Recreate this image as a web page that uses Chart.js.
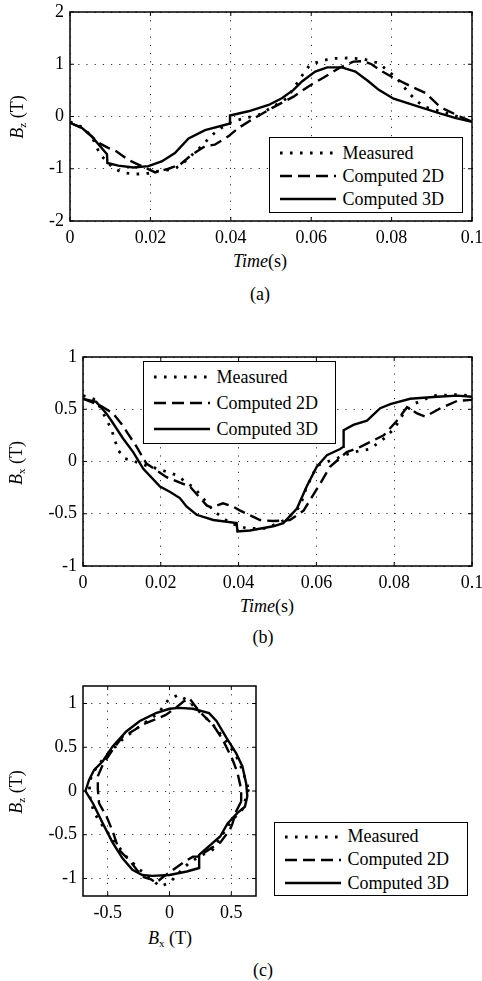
<!DOCTYPE html>
<html>
<head>
<meta charset="utf-8">
<script src="https://cdn.jsdelivr.net/npm/chart.js@4.4.0/dist/chart.umd.min.js"></script>
<style>
  body { margin: 0; background: #fff; }
  #page { position: relative; width: 482px; height: 981px; font-family: "Liberation Serif", "Times New Roman", serif; color: #000; }
  #page canvas { position: absolute; left: 0; }
  .txt { position: absolute; font-size: 18px; line-height: 1; white-space: nowrap; transform: translate(-50%, -50%); }
  .txt.rot { transform: translate(-50%, -50%) rotate(-90deg); }
  .txt sub { font-size: 11px; vertical-align: -3px; line-height: 0; }
  .legend { position: absolute; box-sizing: border-box; border: 1.5px solid #000; background: #fff; font-size: 18px; }
  .legend .row { position: absolute; left: 0; height: 24px; display: flex; align-items: center; }
  .legend svg { display: block; }
</style>
</head>
<body>
<div id="page">
  <canvas id="chartA" width="482" height="250" style="top:0"></canvas>
  <canvas id="chartB" width="482" height="256" style="top:340px"></canvas>
  <canvas id="chartC" width="482" height="256" style="top:670px"></canvas>

  <div class="txt" style="left:260px;top:261px"><i>Time</i>(s)</div>
  <div class="txt rot" style="left:17px;top:117px"><i>B</i><sub>z</sub> (T)</div>
  <div class="txt" style="left:260px;top:294px">(a)</div>

  <div class="txt" style="left:267px;top:606px"><i>Time</i>(s)</div>
  <div class="txt rot" style="left:16px;top:463px"><i>B</i><sub>x</sub> (T)</div>
  <div class="txt" style="left:263px;top:637px">(b)</div>

  <div class="txt" style="left:170px;top:938px"><i>B</i><sub>x</sub> (T)</div>
  <div class="txt rot" style="left:16px;top:792px"><i>B</i><sub>z</sub> (T)</div>
  <div class="txt" style="left:263px;top:970px">(c)</div>
</div>
<script>
const $ = id => document.getElementById(id);

const seriesNames = ["Measured", "Computed 2D", "Computed 3D"];

// (a) Bz against time
const timeTicks = [0, 0.02, 0.04, 0.06, 0.08, 0.1];
const aYTicks = [-2, -1, 0, 1, 2];

const aMeasT = [0, 0.003, 0.0054, 0.0075, 0.0108, 0.0133, 0.0162, 0.0187, 0.0216, 0.0245, 0.0274, 0.029, 0.0328, 0.0349, 0.0369, 0.0402, 0.0436, 0.0469, 0.049, 0.054, 0.0577, 0.0597, 0.062, 0.065, 0.069, 0.073, 0.0768, 0.0813, 0.0841, 0.0859, 0.088, 0.092, 0.096, 0.1];
const aMeasB = [-0.1, -0.2, -0.38, -0.73, -0.99, -1.08, -1.1, -1.1, -1.05, -1.02, -0.95, -0.83, -0.56, -0.39, -0.25, -0.1, -0.03, 0.03, 0.12, 0.35, 0.78, 0.99, 1.05, 1.11, 1.12, 1.1, 1.02, 0.73, 0.47, 0.32, 0.19, 0.1, 0.01, -0.1];

const a2dT = [0, 0.003, 0.0054, 0.0075, 0.0095, 0.0116, 0.0145, 0.017, 0.0212, 0.0245, 0.0274, 0.0303, 0.0336, 0.036, 0.0394, 0.0419, 0.0452, 0.0502, 0.0556, 0.0598, 0.063, 0.067, 0.0705, 0.073, 0.075, 0.0777, 0.08, 0.0842, 0.0884, 0.0916, 0.0934, 0.097, 0.1];
const a2dB = [-0.12, -0.22, -0.38, -0.52, -0.6, -0.67, -0.83, -0.92, -1.07, -1.0, -0.92, -0.73, -0.57, -0.54, -0.38, -0.22, -0.06, 0.16, 0.38, 0.6, 0.74, 0.93, 1.05, 1.06, 1.0, 0.86, 0.76, 0.6, 0.45, 0.22, 0.13, 0.0, -0.1];

const a3dT = [0, 0.003, 0.0054, 0.0075, 0.0092, 0.0093, 0.012, 0.0158, 0.0195, 0.0228, 0.0261, 0.0295, 0.0336, 0.0396, 0.0398, 0.0444, 0.0494, 0.0527, 0.0556, 0.0577, 0.061, 0.064, 0.0676, 0.071, 0.0743, 0.0768, 0.0805, 0.0867, 0.092, 0.096, 0.1];
const a3dB = [-0.12, -0.22, -0.38, -0.57, -0.72, -0.89, -0.94, -0.975, -0.95, -0.86, -0.7, -0.42, -0.26, -0.14, 0.02, 0.1, 0.22, 0.35, 0.51, 0.67, 0.86, 0.94, 0.94, 0.86, 0.67, 0.51, 0.34, 0.19, 0.06, -0.03, -0.1];

// (b) Bx against time
const bYTicks = [-1, -0.5, 0, 0.5, 1];

const bMeasT = [0, 0.0034, 0.0073, 0.009, 0.0107, 0.0133, 0.0163, 0.0193, 0.024, 0.0288, 0.0335, 0.0378, 0.0421, 0.0472, 0.0524, 0.0558, 0.0575, 0.0588, 0.0601, 0.0652, 0.0695, 0.0738, 0.0781, 0.0803, 0.0824, 0.085, 0.0901, 0.0962, 0.1];
const bMeasB = [0.63, 0.59, 0.31, 0.11, 0.03, 0.0, -0.04, -0.07, -0.13, -0.26, -0.47, -0.59, -0.64, -0.64, -0.55, -0.43, -0.24, -0.15, -0.04, 0.03, 0.09, 0.12, 0.24, 0.33, 0.46, 0.55, 0.63, 0.64, 0.63];

const b2dT = [0, 0.0043, 0.0077, 0.0099, 0.0138, 0.0163, 0.0215, 0.0275, 0.0318, 0.033, 0.036, 0.0385, 0.0404, 0.0455, 0.0489, 0.0532, 0.0567, 0.061, 0.0635, 0.0678, 0.0713, 0.0773, 0.0807, 0.0833, 0.0859, 0.088, 0.0919, 0.0962, 0.1];
const b2dB = [0.6, 0.54, 0.46, 0.36, 0.14, -0.02, -0.15, -0.24, -0.42, -0.44, -0.4, -0.43, -0.47, -0.56, -0.57, -0.56, -0.47, -0.21, -0.05, 0.09, 0.14, 0.25, 0.39, 0.52, 0.46, 0.43, 0.51, 0.58, 0.59];

const b3dT = [0, 0.0034, 0.006, 0.0073, 0.0103, 0.0129, 0.0155, 0.0198, 0.0223, 0.0249, 0.0266, 0.0292, 0.0335, 0.0395, 0.0397, 0.0429, 0.0489, 0.0515, 0.055, 0.0575, 0.0601, 0.0627, 0.0661, 0.0669, 0.067, 0.0695, 0.073, 0.0764, 0.079, 0.0841, 0.091, 0.0962, 0.1];
const b3dB = [0.6, 0.57, 0.46, 0.39, 0.22, 0.09, -0.07, -0.24, -0.29, -0.35, -0.43, -0.51, -0.56, -0.59, -0.67, -0.66, -0.62, -0.59, -0.45, -0.24, -0.05, 0.06, 0.12, 0.14, 0.3, 0.35, 0.39, 0.51, 0.55, 0.6, 0.62, 0.63, 0.62];

// (c) Bz against Bx
const cXTicks = [-0.5, 0, 0.5];
const cYTicks = [-1, -0.5, 0, 0.5, 1];

const cMeasBx = [0.64, 0.59, 0.51, 0.45, 0.35, 0.24, 0.16, 0.08, 0.0, -0.08, -0.15, -0.24, -0.35, -0.46, -0.55, -0.61, -0.64, -0.65, -0.62, -0.53, -0.38, -0.24, -0.09, -0.01, 0.07, 0.16, 0.24, 0.35, 0.46, 0.54, 0.59, 0.64];
const cMeasBz = [0.02, -0.21, -0.33, -0.45, -0.67, -0.75, -0.82, -0.93, -1.05, -1.09, -1.0, -0.9, -0.75, -0.55, -0.38, -0.25, -0.1, 0.09, 0.21, 0.38, 0.59, 0.74, 0.89, 1.04, 1.1, 1.02, 0.91, 0.76, 0.57, 0.4, 0.24, 0.02];

const c2dBx = [0.58, 0.54, 0.51, 0.49, 0.41, 0.34, 0.23, 0.19, 0.11, 0.03, -0.05, -0.11, -0.15, -0.22, -0.32, -0.41, -0.46, -0.51, -0.57, -0.58, -0.58, -0.54, -0.46, -0.38, -0.28, -0.22, -0.11, -0.03, 0.05, 0.11, 0.16, 0.22, 0.27, 0.35, 0.43, 0.51, 0.55, 0.58, 0.58];
const c2dBz = [-0.12, -0.23, -0.37, -0.44, -0.59, -0.65, -0.75, -0.75, -0.82, -0.9, -0.98, -1.05, -1.01, -0.98, -0.8, -0.67, -0.46, -0.29, -0.14, 0.02, 0.17, 0.3, 0.47, 0.62, 0.7, 0.76, 0.82, 0.87, 0.95, 1.02, 1.06, 0.95, 0.87, 0.76, 0.59, 0.36, 0.21, 0.02, -0.12];

const c3dBx = [0.63, 0.61, 0.55, 0.47, 0.41, 0.32, 0.24, 0.24, 0.14, 0.0, -0.14, -0.22, -0.3, -0.38, -0.46, -0.54, -0.62, -0.68, -0.65, -0.61, -0.54, -0.46, -0.35, -0.24, -0.11, 0.0, 0.08, 0.19, 0.32, 0.38, 0.46, 0.54, 0.59, 0.62, 0.63];
const c3dBz = [-0.06, -0.18, -0.25, -0.37, -0.52, -0.63, -0.73, -0.88, -0.92, -0.96, -0.97, -0.96, -0.9, -0.77, -0.59, -0.37, -0.14, 0.0, 0.13, 0.24, 0.34, 0.51, 0.68, 0.8, 0.89, 0.94, 0.95, 0.94, 0.89, 0.8, 0.61, 0.43, 0.28, 0.09, -0.06];

// line looks, matlab-ish ':' '--' '-'
const lineDash = [[2.6, 7.4], [12, 6], []];
const lineWidth = [2.8, 2.4, 2.4];

const tickFont = { family: "'Liberation Serif', 'Times New Roman', serif", size: 18 };
const fmt = v => String(+(+v).toFixed(3));

function series(xs, ys, k) {
  return {
    label: seriesNames[k],
    data: xs.map((x, i) => ({ x, y: ys[i] })),
    borderColor: "#000",
    borderWidth: lineWidth[k],
    borderDash: lineDash[k],
    borderCapStyle: "butt",
    pointRadius: 0,
    fill: false,
    tension: 0
  };
}

// box round the plot plus short inward ticks on all four sides
const frame = {
  id: "frame",
  afterDatasetsDraw(chart) {
    const { ctx, chartArea: a, scales } = chart;
    ctx.save();
    ctx.setLineDash([]);
    ctx.strokeStyle = "#000";
    ctx.lineWidth = 1.5;
    ctx.strokeRect(a.left, a.top, a.width, a.height);
    ctx.lineWidth = 1;
    ctx.beginPath();
    scales.x.ticks.forEach(t => {
      const p = scales.x.getPixelForValue(t.value);
      ctx.moveTo(p, a.bottom); ctx.lineTo(p, a.bottom - 4);
      ctx.moveTo(p, a.top); ctx.lineTo(p, a.top + 4);
    });
    scales.y.ticks.forEach(t => {
      const p = scales.y.getPixelForValue(t.value);
      ctx.moveTo(a.left, p); ctx.lineTo(a.left + 4, p);
      ctx.moveTo(a.right, p); ctx.lineTo(a.right - 4, p);
    });
    ctx.stroke();
    ctx.restore();
  }
};

function axis(ticks, min, max, fit) {
  return {
    type: "linear",
    min, max,
    afterBuildTicks: s => { s.ticks = ticks.map(value => ({ value })); },
    afterFit: fit,
    ticks: { font: tickFont, color: "#000", padding: 6, autoSkip: false, maxRotation: 0, callback: fmt },
    grid: { color: "#333", lineWidth: 1, drawTicks: false },
    border: { display: false, dash: [1.2, 7] }
  };
}

function makeChart(id, datasets, o) {
  return new Chart($(id), {
    type: "line",
    data: { datasets },
    options: {
      responsive: false,
      animation: false,
      events: [],
      layout: { padding: { top: o.top, right: o.right, left: 0, bottom: 0 } },
      plugins: { legend: { display: false }, tooltip: { enabled: false } },
      scales: {
        x: axis(o.xTicks, o.xMin, o.xMax, s => { s.height = o.xh; s.paddingLeft = 0; s.paddingRight = 0; }),
        y: axis(o.yTicks, o.yMin, o.yMax, s => { s.width = o.yw; s.paddingTop = 0; s.paddingBottom = 0; })
      }
    },
    plugins: [frame]
  });
}

// html legend built from the datasets
function legend(chart, b) {
  const box = document.createElement("div");
  box.className = "legend";
  Object.assign(box.style, { left: b.left + "px", top: b.top + "px", width: b.w + "px", height: b.h + "px" });
  chart.data.datasets.forEach((d, i) => {
    const row = document.createElement("div");
    row.className = "row";
    row.style.top = (b.row0 + i * b.step - 12 - 1.5) + "px";
    const dash = d.borderDash.length ? `stroke-dasharray="${d.borderDash.join(" ")}"` : "";
    row.innerHTML =
      `<svg width="56" height="6" style="margin-left:9.5px"><line x1="0" y1="3" x2="56" y2="3" stroke="#000" stroke-width="${d.borderWidth}" ${dash}/></svg>` +
      `<span style="margin-left:7px">${d.label}</span>`;
    box.appendChild(row);
  });
  $("page").appendChild(box);
}

const chartA = makeChart("chartA", [
  series(aMeasT, aMeasB, 0), series(a2dT, a2dB, 1), series(a3dT, a3dB, 2)
], { xTicks: timeTicks, yTicks: aYTicks, xMin: 0, xMax: 0.1, yMin: -2, yMax: 2, top: 12, right: 10, yw: 70, xh: 29 });

const chartB = makeChart("chartB", [
  series(bMeasT, bMeasB, 0), series(b2dT, b2dB, 1), series(b3dT, b3dB, 2)
], { xTicks: timeTicks, yTicks: bYTicks, xMin: 0, xMax: 0.1, yMin: -1, yMax: 1, top: 17, right: 10, yw: 83, xh: 30 });

const chartC = makeChart("chartC", [
  series(cMeasBx, cMeasBz, 0), series(c2dBx, c2dBz, 1), series(c3dBx, c3dBz, 2)
], { xTicks: cXTicks, yTicks: cYTicks, xMin: -0.7, xMax: 0.7, yMin: -1.2, yMax: 1.2, top: 16, right: 226, yw: 83, xh: 30 });

legend(chartA, { left: 269, top: 137, w: 194, h: 76, row0: 16.6, step: 23 });
legend(chartB, { left: 143, top: 361, w: 193, h: 83, row0: 16.6, step: 26 });
legend(chartC, { left: 274, top: 822, w: 194, h: 74, row0: 15, step: 23.3 });
</script>
</body>
</html>
